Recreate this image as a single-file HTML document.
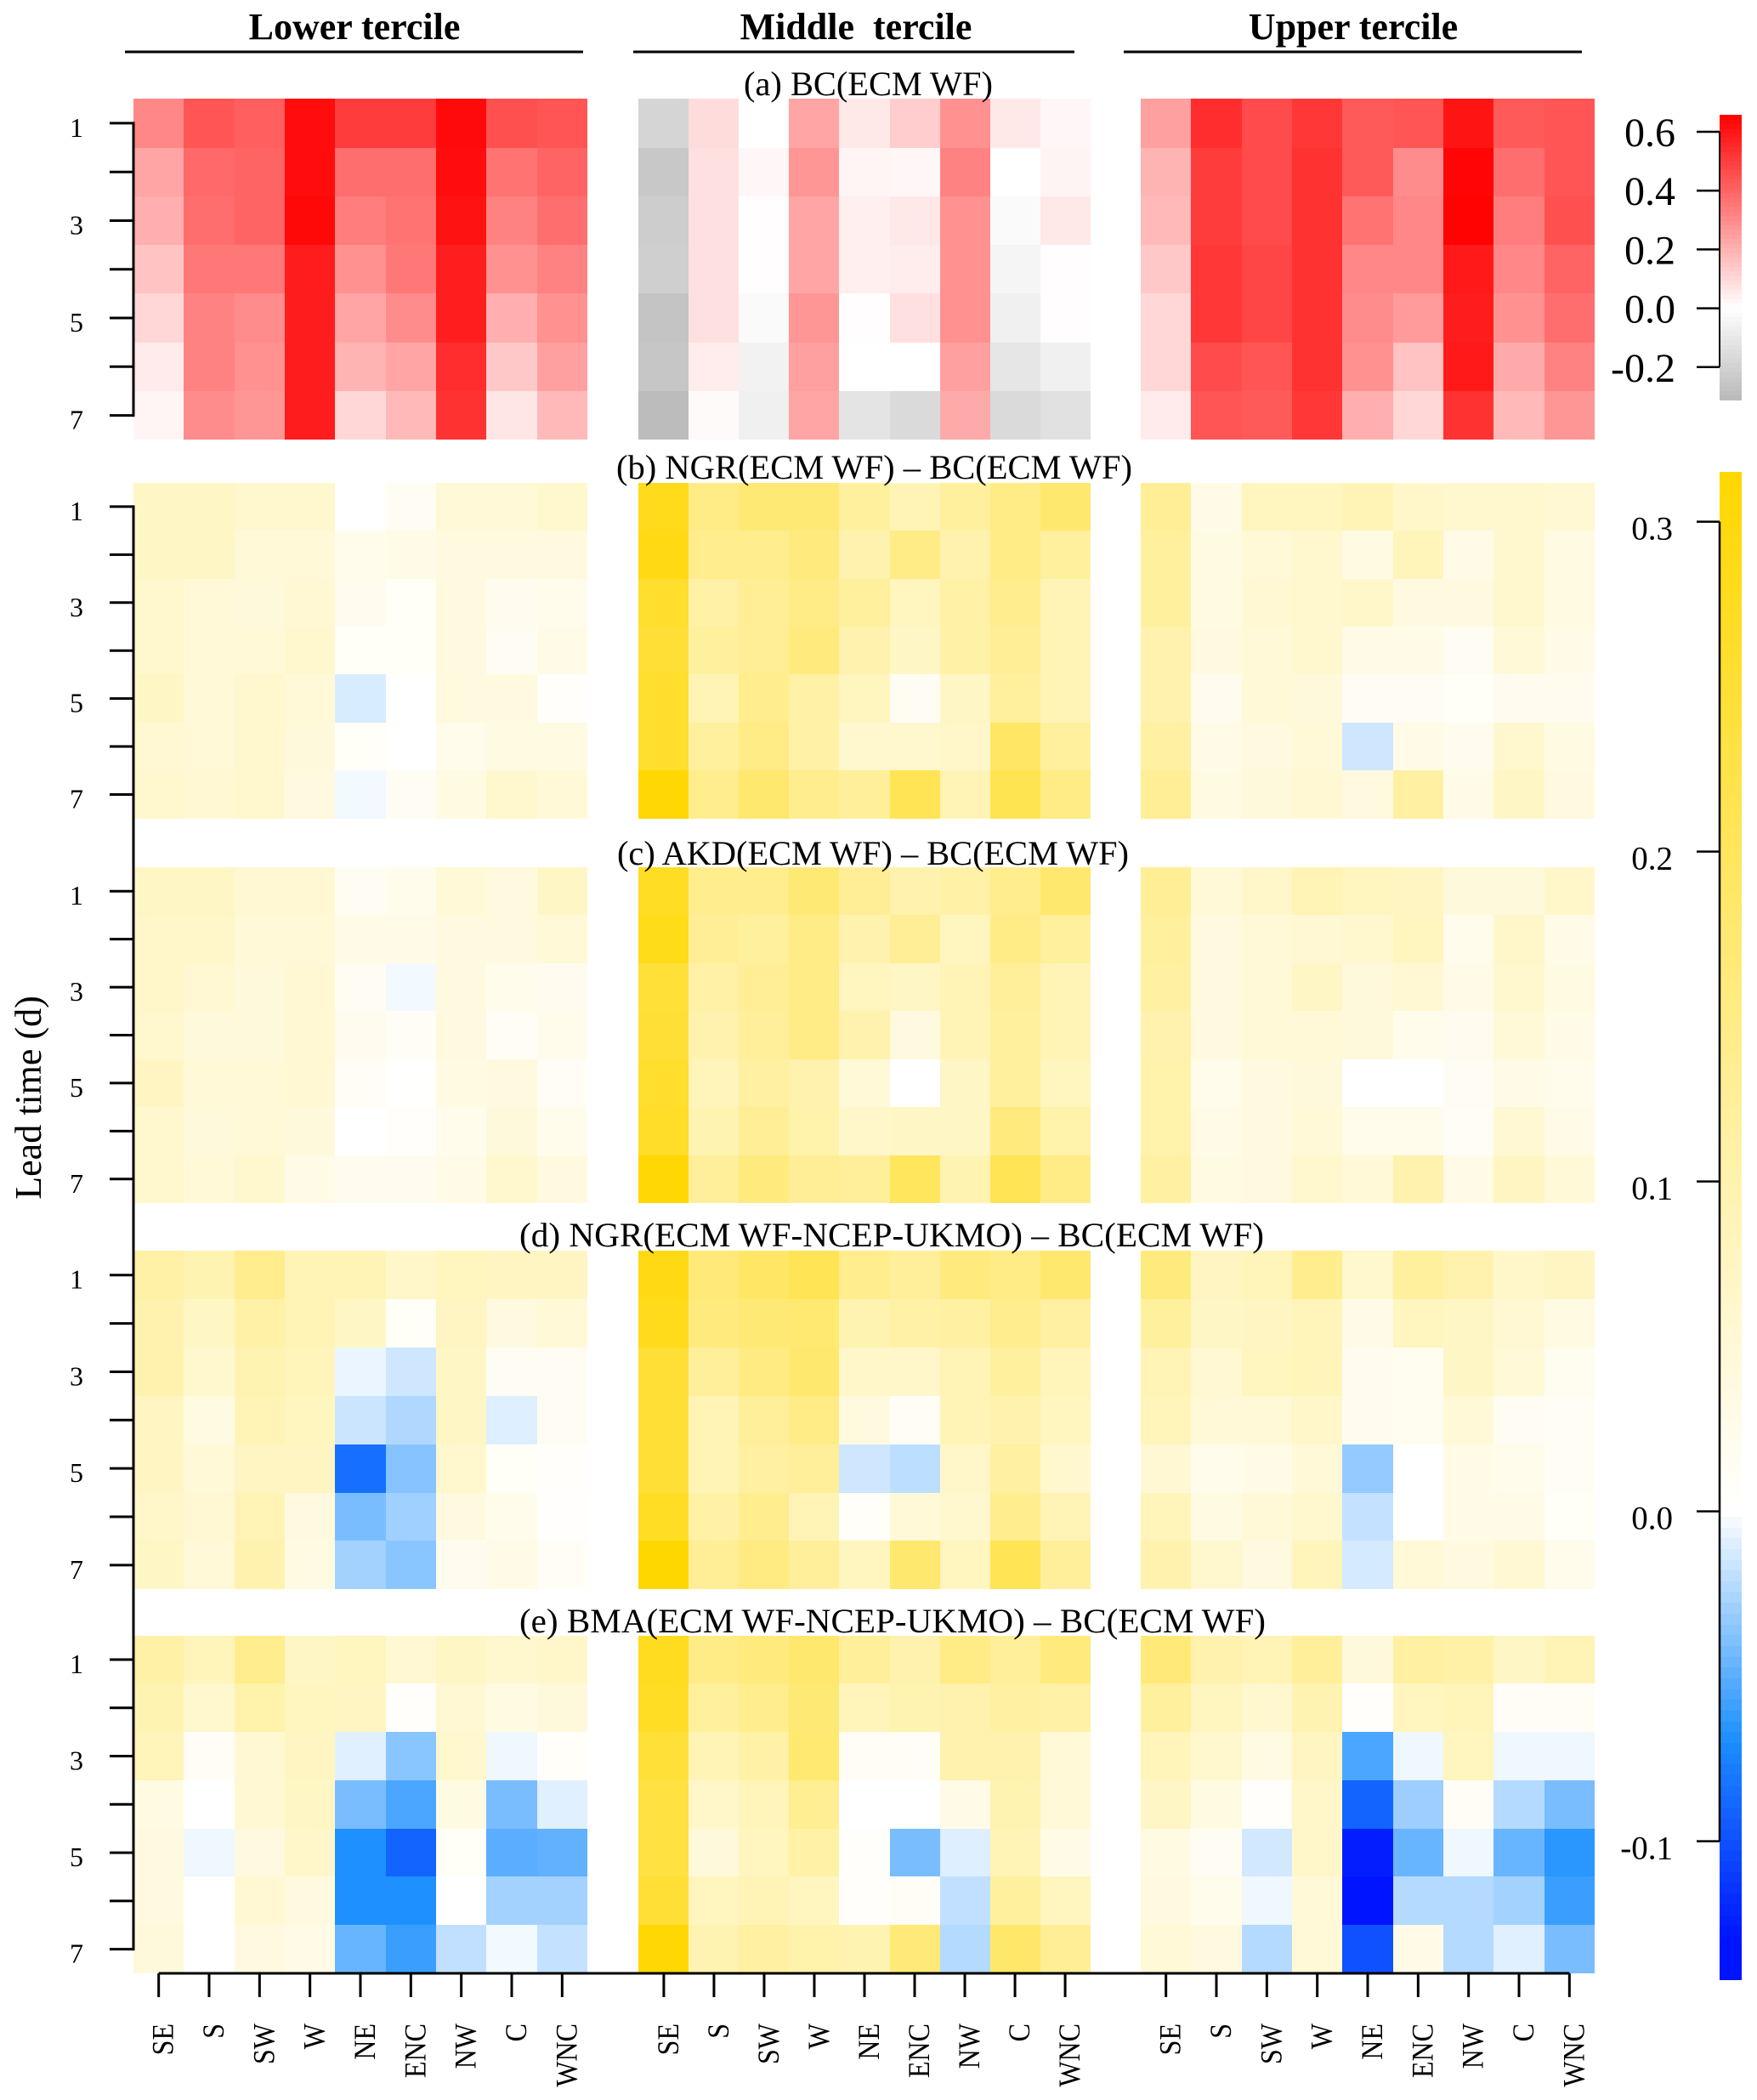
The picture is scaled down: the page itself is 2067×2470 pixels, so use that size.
<!DOCTYPE html>
<html lang="en">
<head>
<meta charset="utf-8">
<title>Lead time by region heatmaps</title>
<style>
html,body{margin:0;padding:0;background:#fff;}
svg{display:block;font-family:"Liberation Serif","Times New Roman",serif;fill:#000;}
.head{font-size:44px;font-weight:bold;text-anchor:middle;white-space:pre;}
.ptitle{font-size:40px;}
</style>
</head>
<body>
<svg id="chart" width="2067" height="2470" viewBox="0 0 2067 2470" xmlns="http://www.w3.org/2000/svg">
  <rect x="0" y="0" width="2067" height="2470" fill="#fff"/>
  <g id="cells" shape-rendering="crispEdges"></g>
  <g id="bars" shape-rendering="crispEdges"></g>
  <g id="axes"></g>
  <g>
    <text class="head" x="417" y="46">Lower tercile</text>
    <text class="head" x="1007" y="46">Middle  tercile</text>
    <text class="head" x="1592" y="46">Upper tercile</text>
    <rect x="147" y="59.5" width="539" height="3"/>
    <rect x="745" y="59.5" width="519" height="3"/>
    <rect x="1322" y="59.5" width="539" height="3"/>
  </g>
  <g>
    <text class="ptitle" x="875" y="112" textLength="293" lengthAdjust="spacingAndGlyphs">(a) BC(ECM<tspan dx="9">WF)</tspan></text>
    <text class="ptitle" x="725" y="563" textLength="607" lengthAdjust="spacingAndGlyphs">(b) NGR(ECM<tspan dx="9">WF) – BC(ECM</tspan><tspan dx="9">WF)</tspan></text>
    <text class="ptitle" x="726" y="1017" textLength="602" lengthAdjust="spacingAndGlyphs">(c) AKD(ECM<tspan dx="9">WF) – BC(ECM</tspan><tspan dx="9">WF)</tspan></text>
    <text class="ptitle" x="611" y="1466" textLength="876" lengthAdjust="spacingAndGlyphs">(d) NGR(ECM<tspan dx="9">WF-NCEP-UKMO) – BC(ECM</tspan><tspan dx="9">WF)</tspan></text>
    <text class="ptitle" x="611" y="1920" textLength="878" lengthAdjust="spacingAndGlyphs">(e) BMA(ECM<tspan dx="9">WF-NCEP-UKMO) – BC(ECM</tspan><tspan dx="9">WF)</tspan></text>
  </g>
  <text transform="translate(48,1291) rotate(-90)" text-anchor="middle" font-size="44">Lead time (d)</text>
</svg>
<script>
const regions = ['SE','S','SW','W','NE','ENC','NW','C','WNC'];
const leadTimes = [1,2,3,4,5,6,7];
const leadLabels = ['1','','3','','5','','7'];
const barATicks = [0.6,0.4,0.2,0,-0.2];
const barBTicks = [0.3,0.2,0.1,0,-0.1];

const aLower = [
[.309,.438,.412,.623,.502,.502,.631,.451,.438],
[.232,.387,.399,.623,.374,.374,.623,.361,.399],
[.206,.374,.399,.636,.335,.361,.611,.322,.374],
[.155,.348,.348,.585,.283,.348,.580,.283,.322],
[.103,.322,.296,.585,.232,.296,.580,.206,.283],
[.052,.322,.283,.585,.193,.232,.541,.142,.245],
[.026,.296,.270,.585,.103,.180,.528,.064,.180]];
const aMiddle = [
[-.187,.090,0,.232,.060,.130,.283,.060,.020],
[-.245,.080,.020,.270,.025,.020,.322,0,.028],
[-.223,.080,.006,.232,.040,.060,.283,-.022,.060],
[-.214,.080,.006,.232,.040,.050,.283,-.045,.004],
[-.263,.080,-.022,.270,.006,.080,.283,-.067,.004],
[-.254,.050,-.058,.245,0,0,.245,-.111,-.067],
[-.300,.014,-.067,.232,-.120,-.165,.219,-.165,-.134]];
const aUpper = [
[.245,.541,.464,.515,.425,.438,.605,.425,.438],
[.193,.502,.464,.528,.425,.296,.644,.374,.438],
[.180,.502,.464,.528,.361,.309,.650,.335,.451],
[.142,.515,.477,.528,.309,.309,.593,.309,.399],
[.103,.515,.477,.528,.296,.258,.585,.283,.374],
[.103,.464,.438,.528,.283,.155,.593,.219,.322],
[.052,.438,.425,.515,.206,.103,.528,.180,.270]];

const bLower = [
[.07,.07,.06,.06,0,.015,.05,.05,.06],
[.07,.07,.05,.05,.025,.03,.04,.04,.04],
[.06,.05,.045,.055,.02,.01,.04,.02,.025],
[.06,.05,.05,.06,.01,.01,.04,.015,.03],
[.07,.05,.06,.05,-.012,0,.04,.04,.005],
[.055,.05,.06,.045,.01,0,.025,.035,.035],
[.06,.055,.06,.04,-.004,.015,.035,.06,.05]];
const bMiddle = [
[.28,.15,.17,.17,.12,.09,.12,.15,.18],
[.29,.14,.14,.16,.10,.15,.10,.15,.12],
[.26,.11,.13,.15,.12,.08,.11,.14,.09],
[.25,.12,.13,.16,.10,.07,.11,.13,.09],
[.26,.09,.14,.11,.08,.015,.07,.12,.09],
[.26,.12,.15,.11,.06,.06,.065,.19,.12],
[.31,.14,.18,.14,.125,.21,.09,.215,.15]];
const bUpper = [
[.13,.03,.08,.08,.09,.065,.06,.06,.055],
[.12,.035,.05,.06,.035,.085,.03,.06,.035],
[.12,.035,.055,.06,.065,.04,.04,.06,.035],
[.10,.04,.05,.06,.03,.03,.015,.05,.03],
[.10,.02,.05,.045,.015,.015,.01,.02,.02],
[.115,.03,.04,.05,-.015,.03,.02,.06,.035],
[.13,.035,.045,.055,.04,.115,.03,.07,.04]];

const cLower = [
[.07,.07,.055,.055,.015,.025,.05,.04,.07],
[.065,.065,.05,.05,.03,.03,.04,.04,.05],
[.065,.055,.045,.055,.015,-.004,.04,.025,.02],
[.06,.045,.045,.055,.02,.012,.04,.012,.025],
[.075,.05,.05,.055,.012,.002,.035,.04,.012],
[.06,.045,.05,.045,0,.006,.025,.045,.025],
[.06,.05,.06,.03,.02,.02,.03,.06,.04]];
const cMiddle = [
[.27,.14,.14,.17,.13,.10,.11,.14,.18],
[.285,.13,.12,.15,.10,.13,.08,.15,.12],
[.245,.11,.13,.15,.08,.07,.09,.125,.09],
[.25,.10,.125,.15,.10,.04,.09,.12,.09],
[.26,.085,.115,.10,.05,0,.07,.12,.08],
[.265,.095,.13,.105,.065,.07,.07,.16,.105],
[.31,.125,.16,.13,.125,.20,.095,.21,.15]];
const cUpper = [
[.13,.05,.065,.09,.08,.075,.045,.045,.065],
[.12,.04,.05,.055,.06,.08,.025,.065,.03],
[.115,.04,.05,.07,.045,.055,.03,.06,.035],
[.10,.04,.05,.05,.045,.025,.02,.05,.03],
[.105,.025,.04,.045,0,0,.015,.03,.025],
[.105,.03,.04,.05,.025,.025,.012,.055,.03],
[.115,.035,.04,.06,.05,.10,.03,.075,.05]];

const dLower = [
[.11,.095,.14,.09,.09,.065,.08,.075,.075],
[.10,.07,.11,.09,.07,.01,.075,.04,.05],
[.10,.06,.095,.085,-.006,-.015,.07,.015,.015],
[.075,.035,.09,.08,-.016,-.024,.07,-.01,.015],
[.075,.05,.075,.075,-.085,-.037,.06,.01,.005],
[.065,.055,.09,.04,-.041,-.029,.04,.025,.004],
[.07,.05,.10,.035,-.028,-.036,.02,.03,.012]];
const dMiddle = [
[.29,.165,.19,.21,.14,.125,.16,.15,.18],
[.28,.16,.17,.175,.095,.11,.115,.14,.115],
[.25,.125,.155,.18,.065,.065,.09,.12,.085],
[.25,.09,.125,.15,.04,.012,.09,.10,.08],
[.25,.09,.115,.125,-.015,-.02,.065,.115,.06],
[.27,.11,.14,.09,.008,.05,.06,.14,.09],
[.315,.13,.155,.125,.08,.18,.08,.21,.125]];
const dUpper = [
[.16,.075,.085,.14,.06,.12,.10,.065,.075],
[.12,.07,.075,.085,.03,.08,.07,.055,.035],
[.09,.055,.08,.085,.02,.018,.07,.05,.018],
[.085,.05,.05,.065,.02,.018,.05,.015,.012],
[.055,.025,.03,.05,-.033,0,.03,.025,.012],
[.085,.035,.05,.06,-.018,0,.03,.03,.01],
[.10,.06,.04,.085,-.013,.05,.04,.055,.025]];

const eLower = [
[.11,.085,.14,.07,.08,.055,.07,.06,.065],
[.095,.06,.105,.08,.075,.005,.055,.035,.045],
[.085,.012,.055,.075,-.0095,-.036,.06,-.005,.008],
[.035,0,.055,.07,-.041,-.055,.035,-.041,-.0095],
[.04,-.005,.04,.065,-.0686,-.091,.01,-.05,-.048],
[.04,0,.055,.04,-.0686,-.0686,0,-.028,-.028],
[.045,0,.04,.03,-.046,-.06,-.019,-.004,-.018]];
const eMiddle = [
[.275,.15,.16,.18,.125,.10,.15,.125,.16],
[.27,.12,.14,.17,.085,.095,.10,.115,.11],
[.245,.09,.11,.175,.012,.012,.10,.10,.05],
[.235,.065,.085,.135,0,0,.03,.095,.05],
[.235,.045,.08,.11,.006,-.041,-.01,.09,.03],
[.25,.08,.09,.08,.005,.012,-.019,.12,.08],
[.31,.095,.115,.105,.095,.165,-.023,.185,.13]];
const eUpper = [
[.165,.10,.09,.125,.045,.115,.11,.07,.09],
[.12,.08,.06,.095,.005,.08,.085,.012,.012],
[.085,.06,.035,.075,-.055,-.005,.08,-.005,-.005],
[.07,.035,.006,.065,-.091,-.03,.012,-.023,-.041],
[.035,.015,-.014,.065,-.125,-.046,-.005,-.046,-.065],
[.04,.025,-.005,.05,-.135,-.023,-.023,-.028,-.06],
[.05,.04,-.023,.05,-.10,.03,-.023,-.0095,-.041]];

const panelValues = [
  {id:'a', rows:[aLower,aMiddle,aUpper]},
  {id:'b', rows:[bLower,bMiddle,bUpper]},
  {id:'c', rows:[cLower,cMiddle,cUpper]},
  {id:'d', rows:[dLower,dMiddle,dUpper]},
  {id:'e', rows:[eLower,eMiddle,eUpper]}
];
const terciles = ['lower','middle','upper'];

/* layout */
const NS = 'http://www.w3.org/2000/svg';
const colLeft = [157, 751.4, 1342];
const colRight = [691, 1282.6, 1876];
const rowTop = [116.3, 567.7, 1020, 1471.3, 1923.6];
const rowBottom = [517.2, 962.7, 1415, 1869.3, 2321];

function xBand(t, i){ return colLeft[t] + i * (colRight[t]-colLeft[t]) / regions.length; }
function yBand(p, r){ return rowTop[p] + r * (rowBottom[p]-rowTop[p]) / leadTimes.length; }
function xCenter(t, i){ return xBand(t, i+0.5); }
function yCenter(p, r){ return yBand(p, r+0.5); }
function barAY(v){ return 362.6 - v*346; }
function barBY(v){ return 1777.6 - v*3880; }

function lerp(a,b,t){ return a+(b-a)*t; }
function rgb(r,g,b){ return 'rgb('+Math.round(r)+','+Math.round(g)+','+Math.round(b)+')'; }
function colorA(v){
  if(v>=0){ const g=255*(1-Math.min(v/0.657,1)); return rgb(255,g,g); }
  const l=255-70*Math.min(-v/0.312,1); return rgb(l,l,l);
}
function colorB(v){
  if(v>=0){ const t=Math.min(v/0.315,1); return rgb(255,255-40*t,255-255*t); }
  if(v>-0.0686){ const t=-v/0.0686; return rgb(lerp(255,30,t),lerp(255,144,t),255); }
  const t=Math.min((-v-0.0686)/0.0614,1);
  return rgb(lerp(30,0,t),lerp(144,20,t),255);
}

function mk(tag, parent, attrs){
  const el=document.createElementNS(NS,tag);
  for(const k in attrs){ el.setAttribute(k,attrs[k]); }
  parent.appendChild(el);
  return el;
}

const cellsG=document.getElementById('cells');
const barsG=document.getElementById('bars');
const axesG=document.getElementById('axes');

/* heatmap cells */
panelValues.forEach(function(panel,p){
  const colorFn = p===0 ? colorA : colorB;
  panel.rows.forEach(function(matrix,t){
    matrix.forEach(function(row,r){
      row.forEach(function(v,c){
        const x0=Math.round(xBand(t,c)), x1=Math.round(xBand(t,c+1));
        const y0=Math.round(yBand(p,r)), y1=Math.round(yBand(p,r+1));
        const el=mk('rect',cellsG,{x:x0,y:y0,width:x1-x0,height:y1-y0,fill:colorFn(v)});
        
        
      });
    });
  });
});

function line(x1,y1,x2,y2,w,name){
  const el=mk('line',axesG,{x1:x1,y1:y1,x2:x2,y2:y2,stroke:'#000','stroke-width':w});
  
  
  return el;
}

/* y axes */
const yAxisX=157;
line(yAxisX,yCenter(0,0)-1.5,yAxisX,yCenter(0,6)+1.5,3,'y-axis-line-a');
line(yAxisX,yCenter(1,0)-1.5,yAxisX,yCenter(4,6)+1.5,3,'y-axis-line-b-to-e');
panelValues.forEach(function(panel,p){
  leadTimes.forEach(function(lead,r){
    const yy=yCenter(p,r);
    line(129,yy,yAxisX,yy,3,'y-tick-'+panel.id+'-'+lead);
    if(leadLabels[r]){
      const tx=mk('text',axesG,{x:90,y:yy+16,'font-size':32,'text-anchor':'middle'});
      tx.textContent=leadLabels[r];
      
      
    }
  });
});

/* x axis */
const xAxisY=2321;
line(xCenter(0,0),xAxisY,xCenter(2,8),xAxisY,3,'x-axis-line');
terciles.forEach(function(name,t){
  regions.forEach(function(reg,c){
    const xx=xCenter(t,c);
    line(xx,xAxisY,xx,2349,3,'x-tick-'+name+'-'+reg);
    const tx=mk('text',axesG,{transform:'translate('+(xx+17)+',2380) rotate(-90) scale(1,1.12)','font-size':32,'text-anchor':'end'});
    tx.textContent=reg;
    
    
  });
});

/* colorbars */
function drawBar(vTop,vBottom,levels,yFn,colorFn,name){
  for(let i=0;i<levels;i++){
    const vA=lerp(vTop,vBottom,i/levels), vB=lerp(vTop,vBottom,(i+1)/levels);
    const y0=Math.round(yFn(vA)), y1=Math.round(yFn(vB));
    const el=mk('rect',barsG,{x:2023,y:y0,width:26,height:y1-y0,fill:colorFn((vA+vB)/2)});
    
    
  }
}
drawBar(0.657,-0.312,62,barAY,colorA,'colorbar-a');
drawBar(0.315,-0.142,140,barBY,colorB,'colorbar-b');

line(2023,barAY(0.6),2023,barAY(-0.2),2,'colorbar-a-axis');
barATicks.forEach(function(v){
  const yy=barAY(v);
  line(1996,yy,2023,yy,2.5,'colorbar-a-tick');
  const tx=mk('text',axesG,{x:1971,y:yy+17,'font-size':48,'text-anchor':'end'});
  tx.textContent=v.toFixed(1);
  
  
});
line(2023,barBY(0.3),2023,barBY(-0.1),2.5,'colorbar-b-axis');
barBTicks.forEach(function(v){
  const yy=barBY(v);
  line(1996,yy,2023,yy,2.5,'colorbar-b-tick');
  const tx=mk('text',axesG,{x:1968,y:yy+21,'font-size':39,'text-anchor':'end'});
  tx.textContent=v.toFixed(1);
  
  
});
</script>
</body>
</html>
